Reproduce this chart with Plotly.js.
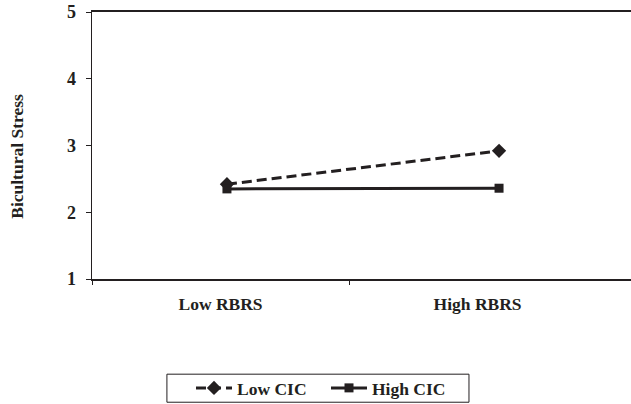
<!DOCTYPE html>
<html>
<head>
<meta charset="utf-8">
<script src="https://cdn.plot.ly/plotly-3.0.1.min.js"></script>
<style>html,body{margin:0;padding:0;background:#fff;}#chart{width:631px;height:404px;}</style>
</head>
<body>
<div id="chart"></div>
<script>
const categories = ["Low RBRS", "High RBRS"];
const lowCIC = [2.42, 2.92];
const highCIC = [2.35, 2.36];
const seriesNames = ["Low CIC", "High CIC"];
const yTicks = [1, 2, 3, 4, 5];

const ink = "#231f20";
const fam = "Liberation Serif, Times New Roman, serif";
const font = {family: fam, size: 17.5, color: ink, weight: "bold"};

const traces = [
  {x: categories, y: lowCIC, name: seriesNames[0], type: "scatter", mode: "lines+markers",
   line: {color: ink, width: 3, dash: "10px,5px"}, marker: {symbol: "diamond", size: 11, color: ink}},
  {x: categories, y: highCIC, name: seriesNames[1], type: "scatter", mode: "lines+markers",
   line: {color: ink, width: 3}, marker: {symbol: "square", size: 9, color: ink}},
  // helper so the label axis (x2) gets drawn; no visible mark
  {x: [0, 2], y: [null, null], xaxis: "x2", yaxis: "y", type: "scatter", mode: "lines",
   showlegend: false, hoverinfo: "skip"}
];

const layout = {
  width: 631, height: 404,
  margin: {l: 92, r: 0, t: 12, b: 125},
  paper_bgcolor: "#fff", plot_bgcolor: "#fff",
  font: font,
  showlegend: true,
  xaxis: {type: "category", categoryarray: categories, range: [-0.496, 1.485],
    showticklabels: false, ticks: "", showgrid: false, zeroline: false,
    showline: true, linecolor: ink, linewidth: 2, mirror: true},
  xaxis2: {overlaying: "x", anchor: "y", side: "bottom", range: [0, 2.097], type: "linear",
    tickmode: "array", tickvals: [0.5, 1.5], ticktext: categories, ticks: "",
    showgrid: false, zeroline: false, showline: false, ticklabelstandoff: 12,
    tickfont: font,
    minor: {tickmode: "array", tickvals: [0, 1], ticks: "outside", ticklen: 5, tickwidth: 1, tickcolor: ink, showgrid: false}},
  yaxis: {range: [1, 5], tickmode: "array", tickvals: yTicks, ticks: "outside", ticklen: 5, tickwidth: 1,
    tickcolor: ink, showgrid: false, zeroline: false, showline: true, linecolor: ink, linewidth: 1.5,
    tickfont: {family: fam, size: 18, color: ink, weight: "bold"}, ticklabelstandoff: 6},
  legend: {orientation: "h", xref: "container", yref: "container", x: 191 / 631, y: 16 / 404,
    xanchor: "left", yanchor: "middle",
    borderwidth: 0, font: {family: fam, size: 17.5, color: ink, weight: "bold"},
    bgcolor: "rgba(0,0,0,0)", entrywidth: 84, itemwidth: 36},
  shapes: [{type: "rect", xref: "paper", yref: "paper", x0: 0.139, x1: 0.6994, y0: -0.4615, y1: -0.3565,
    line: {color: ink, width: 1}, fillcolor: "rgba(0,0,0,0)"}],
  annotations: [{text: "Bicultural Stress", xref: "paper", yref: "paper", x: -0.139, y: 0.458,
    xanchor: "center", yanchor: "middle", textangle: -90, showarrow: false,
    font: {family: fam, size: 17.5, color: ink, weight: "bold"}}]
};

Plotly.newPlot("chart", traces, layout, {displayModeBar: false, staticPlot: true});
</script>
</body>
</html>
